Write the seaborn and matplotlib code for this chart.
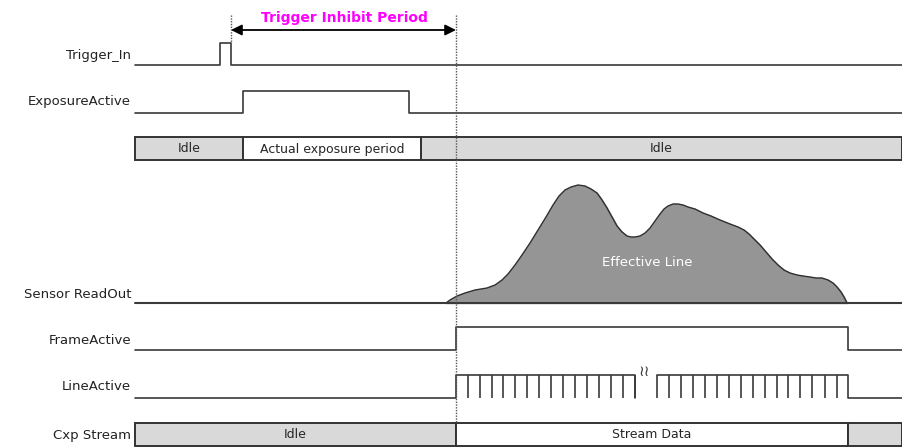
import numpy as np
import pandas as pd
import matplotlib.pyplot as plt
import seaborn as sns

# time axis is in diagram units (0..902), same for every signal
trigger_t = [135, 220, 231, 902]
trigger_v = [0, 1, 0, 0]

exposure_t = [135, 243, 409, 902]
exposure_v = [0, 1, 0, 0]

frame_t = [135, 456, 848, 902]
frame_v = [0, 1, 0, 0]

line_t1 = [135, 456, 635]
line_v1 = [0, 1, 0]
line_t2 = [657, 848, 902]
line_v2 = [1, 0, 0]
line_ticks = [468, 480, 492, 503, 515, 527, 539, 551, 563, 575, 587, 599, 611, 623, 635,
              669, 681, 693, 705, 717, 729, 741, 753, 765, 777, 788, 800, 812, 825, 837]

readout_t = [446, 450, 457, 465, 475, 487, 495, 502, 508, 515, 522, 530, 538, 546, 553,
             559, 565, 571, 578, 585, 591, 597, 602, 607, 612, 617, 622, 627, 631, 635,
             640, 645, 650, 655, 660, 664, 668, 673, 678, 683, 688, 695, 703, 711, 720,
             730, 738, 744, 749, 754, 760, 766, 772, 778, 784, 790, 797, 803, 810, 816,
             822, 828, 833, 837, 841, 844, 847]
readout_h = [0, 3, 7, 10, 13, 15, 18, 23, 29, 38, 48, 60, 73, 86, 98,
             107, 113, 116, 118, 117, 114, 110, 103, 95, 86, 77, 71, 67, 66, 66,
             67, 70, 75, 82, 89, 94, 97, 99, 99, 98, 96, 94, 90, 87, 83,
             79, 76, 73, 69, 64, 58, 51, 44, 38, 33, 30, 28, 27, 26, 25,
             25, 23, 20, 16, 11, 6, 0]

state_bar = [(135, 243, "Idle"), (243, 421, "Actual exposure period"), (421, 902, "Idle")]
state_fill = ["#d9d9d9", "white", "#d9d9d9"]
cxp_bar = [(135, 456, "Idle"), (456, 848, "Stream Data"), (848, 902, "")]
cxp_fill = ["#d9d9d9", "white", "#d9d9d9"]

inhibit_start, inhibit_end = 231, 456

# layout: baseline y / high y of each row (pixels, y down)
rows = {
    "Trigger_In": (65, 43),
    "ExposureActive": (113, 91),
    "Sensor ReadOut": (303, None),
    "FrameActive": (350, 327),
    "LineActive": (398, 375),
}
label_y = {"Trigger_In": 56, "ExposureActive": 101, "Sensor ReadOut": 294,
           "FrameActive": 340, "LineActive": 386, "Cxp Stream": 436}

sns.set_style("white")
plt.rcParams["font.family"] = ["DejaVu Sans"]

LC = "#3a3a3a"
LW = 1.2

fig = plt.figure(figsize=(9.02, 4.48), dpi=100)
ax = fig.add_axes([0, 0, 1, 1])
ax.set_xlim(0, 902)
ax.set_ylim(448, 0)
ax.axis("off")


def to_y(row, vals):
    lo, hi = rows[row]
    return [lo if v == 0 else hi for v in vals]


def step(t, v, row):
    df = pd.DataFrame({"t": t, "y": to_y(row, v)})
    sns.lineplot(data=df, x="t", y="y", ax=ax, color=LC, lw=LW, sort=False,
                 estimator=None, drawstyle="steps-post")


step(trigger_t, trigger_v, "Trigger_In")
step(exposure_t, exposure_v, "ExposureActive")
step(frame_t, frame_v, "FrameActive")
step(line_t1, line_v1, "LineActive")
step(line_t2, line_v2, "LineActive")
lo, hi = rows["LineActive"]
ax.vlines(line_ticks, hi, lo, color=LC, lw=LW)
ax.vlines([line_t2[0]], hi, lo, color=LC, lw=LW)
ax.text(644, 371, "≀≀", fontsize=11, ha="center", va="center", color=LC)

# sensor readout
base = rows["Sensor ReadOut"][0]
ro = pd.DataFrame({"t": readout_t, "y": [base - h for h in readout_h]})
ax.fill_between(ro["t"], ro["y"], base, color="#959595", zorder=1)
sns.lineplot(data=ro, x="t", y="y", ax=ax, color="#303030", lw=1.0, sort=False, estimator=None)
ax.plot([135, 902], [base, base], color=LC, lw=LW + 0.3)
ax.text(647, 263, "Effective Line", color="white", fontsize=9.5, ha="center", va="center")

# state bars
for bar, fills, yc in [(state_bar, state_fill, 149), (cxp_bar, cxp_fill, 435)]:
    for (x0, x1, txt), fc in zip(bar, fills):
        ax.barh(yc, x1 - x0, left=x0, height=23, color=fc, edgecolor="#333333", lw=1.4, zorder=2)
        ax.text((x0 + x1) / 2, yc, txt, fontsize=9, ha="center", va="center", zorder=3)

# labels
for name, y in label_y.items():
    ax.text(131, y, name, fontsize=9.5, ha="right", va="center", color="#222222")

# trigger inhibit period
ax.vlines([inhibit_start], 15, 43, color="#555555", lw=1, linestyles=(0, (1, 1)))
ax.vlines([inhibit_end], 15, 423, color="#555555", lw=1, linestyles=(0, (1, 1)), zorder=4)
ax.annotate("", xy=(inhibit_end, 30), xytext=(inhibit_start, 30),
            arrowprops=dict(arrowstyle="<|-|>", color="black", lw=1.3,
                            mutation_scale=16, shrinkA=0, shrinkB=0))
ax.text((inhibit_start + inhibit_end) / 2 + 1, 18, "Trigger Inhibit Period", color="#ff00ff",
        fontsize=10, fontweight="bold", ha="center", va="center")

fig.savefig("out.png", dpi=100)
